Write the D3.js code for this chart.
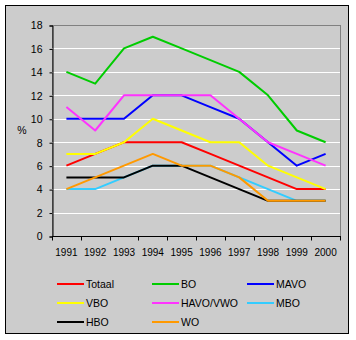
<!DOCTYPE html>
<html>
<head>
<meta charset="utf-8">
<script src="https://cdn.jsdelivr.net/npm/d3@7"></script>
<style>
html,body{margin:0;padding:0;background:#fff;}
svg{display:block;}
text{font-family:"Liberation Sans",Arial,sans-serif;font-size:10px;fill:#000;}
</style>
</head>
<body>
<svg id="chart" width="356" height="340"></svg>
<script>
const years = ["1991","1992","1993","1994","1995","1996","1997","1998","1999","2000"];
const yTicks = [0,2,4,6,8,10,12,14,16,18];
const seriesNames = ["Totaal","BO","MAVO","VBO","HAVO/VWO","MBO","HBO","WO"];
const seriesColors = ["#ff0000","#00cc00","#0000ff","#ffff00","#ff33ff","#33ccff","#000000","#ff9900"];
const totaal  = [6,7,8,8,8,7,6,5,4,4];
const bo      = [14,13,16,17,16,15,14,12,9,8];
const mavo    = [10,10,10,12,12,11,10,8,6,7];
const vbo     = [7,7,8,10,9,8,8,6,5,4];
const havoVwo = [11,9,12,12,12,12,10,8,7,6];
const mbo     = [4,4,5,6,6,6,5,4,3,3];
const hbo     = [5,5,5,6,6,5,4,3,3,3];
const wo      = [4,5,6,7,6,6,5,3,3,3];
const seriesValues = [totaal,bo,mavo,vbo,havoVwo,mbo,hbo,wo];

(function(){
const svg = d3.select("#chart");
const bg = "#cccccc";

// chart area
svg.append("rect").attr("x",5.5).attr("y",5.5).attr("width",343).attr("height",328)
  .attr("fill",bg).attr("stroke","#000").attr("stroke-width",1);

const pL = 52, pR = 340, pT = 25, pB = 236;
const x = d3.scaleBand().domain(years).range([pL,pR]).padding(0);
const y = d3.scaleLinear().domain([0,18]).range([pB,pT]);

// plot area border (gray)
svg.append("rect").attr("x",pL+0.5).attr("y",pT+0.5).attr("width",pR-pL).attr("height",pB-pT)
  .attr("fill",bg).attr("stroke","#808080").attr("stroke-width",1);

// gridlines
svg.append("g").selectAll("line").data(yTicks.filter(d=>d>0 && d<18)).join("line")
  .attr("x1",pL).attr("x2",pR)
  .attr("y1",d=>Math.round(y(d))+0.5).attr("y2",d=>Math.round(y(d))+0.5)
  .attr("stroke","#ffffff").attr("stroke-width",1);

// y axis
const yAxis = d3.axisLeft(y).tickValues(yTicks).tickSize(3).tickPadding(7);
const gy = svg.append("g").attr("transform",`translate(${pL+0.5},0.5)`).call(yAxis);
gy.select(".domain").attr("stroke","#000");
gy.selectAll(".tick line").attr("stroke","#000");
gy.selectAll("text").style("font-size","10.5px").style("font-family","Liberation Sans, Arial, sans-serif");

// x axis with ticks at band boundaries
const gx = svg.append("g").attr("transform",`translate(0,${pB+0.5})`);
gx.append("line").attr("x1",pL).attr("x2",pR+1).attr("y1",0).attr("y2",0).attr("stroke","#000");
const bounds = years.map(d=>x(d)).concat([x(years[years.length-1])+x.bandwidth()]);
gx.selectAll("line.tk").data(bounds).join("line").attr("class","tk")
  .attr("x1",d=>Math.round(d)+0.5).attr("x2",d=>Math.round(d)+0.5).attr("y1",0).attr("y2",4).attr("stroke","#000");
gx.selectAll("text").data(years).join("text")
  .attr("x",d=>x(d)+x.bandwidth()/2).attr("y",19).attr("text-anchor","middle").text(d=>d);

// % label
svg.append("text").attr("x",22).attr("y",134).attr("text-anchor","middle").style("font-size","10.5px").text("%");

// lines
const line = d3.line().x((d,i)=>x(years[i])+x.bandwidth()/2).y(d=>y(d));
svg.append("g").selectAll("path").data(seriesValues).join("path")
  .attr("d",d=>line(d)).attr("fill","none")
  .attr("stroke",(d,i)=>seriesColors[i]).attr("stroke-width",2).attr("stroke-linejoin","round");

// legend
const colX = [57,152,247], rowY = [284,303,322];
const lg = svg.append("g").selectAll("g").data(seriesNames).join("g")
  .attr("transform",(d,i)=>`translate(${colX[i%3]},${rowY[Math.floor(i/3)]})`);
lg.append("line").attr("x1",0).attr("x2",27).attr("y1",0).attr("y2",0)
  .attr("stroke",(d,i)=>seriesColors[i]).attr("stroke-width",2);
lg.append("text").attr("x",29).attr("y",4).style("font-size","10.5px").text(d=>d);
})();
</script>
</body>
</html>
